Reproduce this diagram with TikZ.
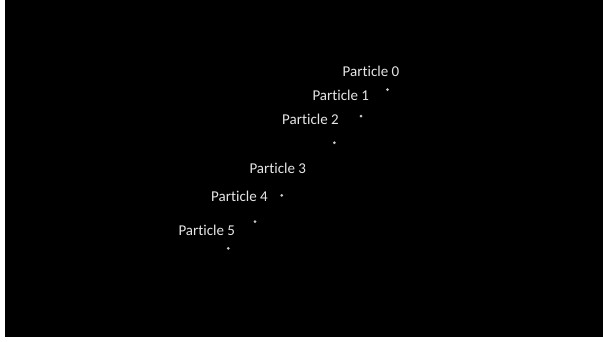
\documentclass[tikz,border=0pt]{standalone}
\usepackage{fontspec}
\setmainfont[Ligatures=NoCommon]{Carlito}
\definecolor{txt}{HTML}{E6E6E6}
\definecolor{dotc}{HTML}{C8C8C8}
\begin{document}
\begin{tikzpicture}[x=1pt,y=-1pt,
  lbl/.style={anchor=base west,inner sep=0pt,text=txt,font=\fontsize{15}{18}\selectfont},
  pdot/.style={circle,fill=dotc,inner sep=0pt,minimum size=3pt}]
\fill[white] (0,0) rectangle (603,341);
\fill[black] (5,0) rectangle (603,337);
\useasboundingbox (0,0) rectangle (603,341);
\node[lbl] (l0) at (342.5,76.5) {Particle 0};
\node[lbl] (l1) at (312.3,100) {Particle 1};
\node[lbl] (l2) at (282,124.7) {Particle 2};
\node[lbl] (l3) at (249.3,173.3) {Particle 3};
\node[lbl] (l4) at (211,201.7) {Particle 4};
\node[lbl] (l5) at (178.3,235.7) {Particle 5};
\node[pdot] (d0) at (387.5,89.5) {};
\node[pdot] (d1) at (361,116) {};
\node[pdot] (d2) at (334.3,142.7) {};
\node[pdot] (d3) at (281.7,195.3) {};
\node[pdot] (d4) at (255,221.7) {};
\node[pdot] (d5) at (228.3,248.3) {};
\end{tikzpicture}
\end{document}
